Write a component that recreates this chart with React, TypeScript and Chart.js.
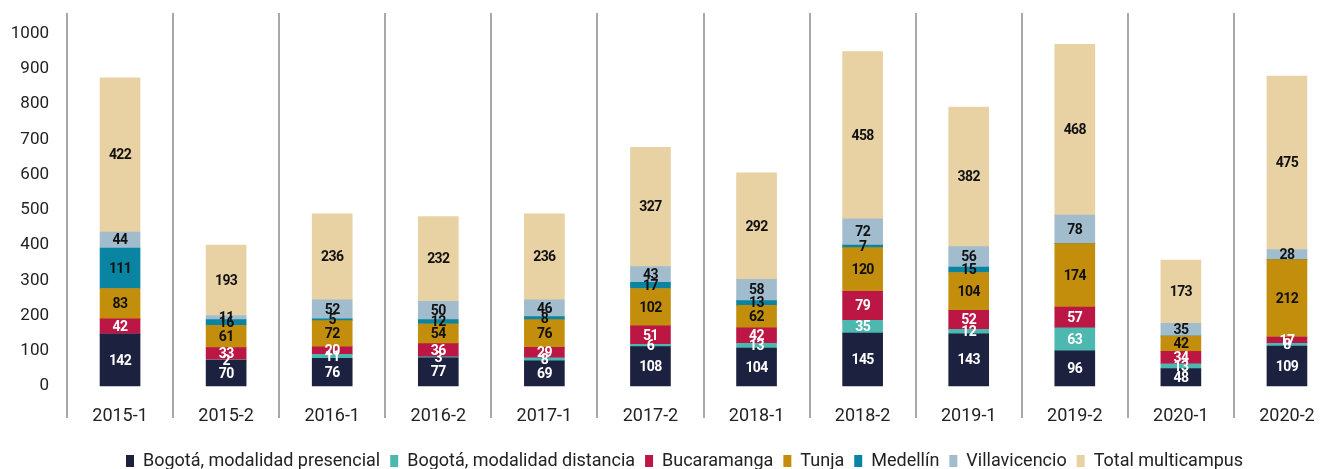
import React, { useEffect, useRef } from "react";
import { Chart, registerables } from "chart.js";

Chart.register(...registerables);

// ---- data ----
const categories = [
  "2015-1", "2015-2", "2016-1", "2016-2", "2017-1", "2017-2",
  "2018-1", "2018-2", "2019-1", "2019-2", "2020-1", "2020-2",
];
const bogotaPresencial = [142, 70, 76, 77, 69, 108, 104, 145, 143, 96, 48, 109];
const bogotaDistancia = [0, 2, 11, 3, 8, 6, 13, 35, 12, 63, 13, 8];
const bucaramanga = [42, 33, 20, 36, 29, 51, 42, 79, 52, 57, 34, 17];
const tunja = [83, 61, 72, 54, 76, 102, 62, 120, 104, 174, 42, 212];
const medellin = [111, 16, 5, 12, 8, 17, 13, 7, 15, 0, 0, 0];
const villavicencio = [44, 11, 52, 50, 46, 43, 58, 72, 56, 78, 35, 28];
const totalMulticampus = [422, 193, 236, 232, 236, 327, 292, 458, 382, 468, 173, 475];
const yTicks = [0, 100, 200, 300, 400, 500, 600, 700, 800, 900, 1000];

const seriesNames = [
  "Bogotá, modalidad presencial",
  "Bogotá, modalidad distancia",
  "Bucaramanga",
  "Tunja",
  "Medellín",
  "Villavicencio",
  "Total multicampus",
];
const seriesData = [
  bogotaPresencial, bogotaDistancia, bucaramanga, tunja, medellin, villavicencio, totalMulticampus,
];
const seriesColors = ["#1d2140", "#4db8b0", "#bc1744", "#c28e0c", "#0a84a3", "#a1bccd", "#e8d1a3"];
const labelColors = ["#ffffff", "#ffffff", "#ffffff", "#111111", "#111111", "#111111", "#111111"];

const FONT = "Roboto, 'Noto Sans', sans-serif";

const valueLabels = {
  id: "valueLabels",
  afterDatasetsDraw(chart: any) {
    const ctx = chart.ctx;
    ctx.save();
    ctx.font = `bold 14px ${FONT}`;
    (ctx as any).letterSpacing = "-0.6px";
    ctx.textAlign = "center";
    ctx.textBaseline = "middle";
    chart.data.datasets.forEach((ds: any, di: number) => {
      const meta = chart.getDatasetMeta(di);
      meta.data.forEach((el: any, i: number) => {
        const v = ds.data[i];
        if (!v) return;
        const { x, y, base } = el.getProps(["x", "y", "base"], true);
        ctx.fillStyle = labelColors[di];
        ctx.fillText(String(v), x, (y + base) / 2 + 1);
      });
    });
    ctx.restore();
  },
};

export default function App() {
  const ref = useRef<HTMLCanvasElement>(null);

  useEffect(() => {
    document.body.style.margin = "0";
    document.documentElement.style.overflow = "hidden";
    const chart = new Chart(ref.current!, {
      type: "bar",
      data: {
        labels: categories,
        datasets: seriesNames.map((name, i) => ({
          label: name,
          data: seriesData[i],
          backgroundColor: seriesColors[i],
          borderWidth: 0,
          yAxisID: "yb",
          barThickness: 40,
        })),
      },
      options: {
        animation: false,
        responsive: true,
        maintainAspectRatio: false,
        layout: { padding: { left: 11, top: 13, right: 5, bottom: -11 } },
        plugins: {
          tooltip: { enabled: false },
          legend: {
            position: "bottom",
            labels: {
              boxWidth: 8,
              boxHeight: 12,
              padding: 10,
              color: "#222",
              font: { family: FONT, size: 18 },
            },
          },
        },
        scales: {
          x: {
            stacked: true,
            offset: true,
            grid: {
              display: true,
              offset: true,
              color: "#a8a8a8",
              lineWidth: 2,
              drawTicks: true,
              tickLength: 18,
            },
            border: { display: false },
            ticks: {
              color: "#222",
              padding: -12,
              font: { family: FONT, size: 18 },
            },
            afterFit: (axis: any) => {
              axis.height = 42;
              axis.paddingLeft = 0;
              axis.paddingRight = 0;
            },
          },
          y: {
            position: "left",
            min: -39.8,
            max: 1058.8,
            grid: { display: false, drawTicks: false },
            border: { display: false },
            ticks: {
              color: "#222",
              padding: 18,
              font: { family: FONT, size: 17 },
              callback: (v: any) => String(v),
            },
            afterBuildTicks: (axis: any) => {
              axis.ticks = yTicks.map((v) => ({ value: v }));
            },
            afterFit: (axis: any) => {
              axis.width = 56;
              axis.paddingTop = 0;
              axis.paddingBottom = 0;
            },
          },
          yb: {
            position: "right",
            display: true,
            stacked: true,
            min: -38.4,
            max: 1021.9,
            grid: { display: false, drawTicks: false },
            border: { display: false },
            ticks: { display: false },
            afterFit: (axis: any) => {
              axis.width = 18;
              axis.paddingTop = 0;
              axis.paddingBottom = 0;
            },
          },
        },
      },
      plugins: [valueLabels],
    });
    return () => chart.destroy();
  }, []);

  return (
    <div style={{ position: "relative", width: "1363px", height: "469px" }}>
      <canvas ref={ref} />
    </div>
  );
}
